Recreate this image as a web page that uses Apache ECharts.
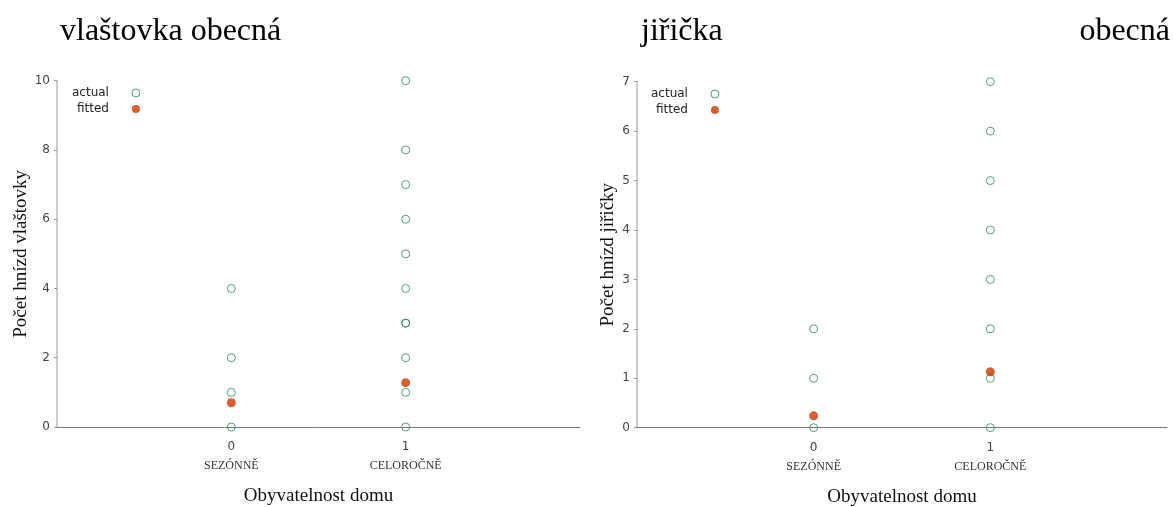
<!DOCTYPE html>
<html><head><meta charset="utf-8">
<script src="https://cdn.jsdelivr.net/npm/echarts@6/dist/echarts.min.js"></script>
<style>html,body{margin:0;padding:0;background:#fff}#c{width:1173px;height:507px}</style>
</head><body><div id="c"></div>
<script>
const categories = ['SEZÓNNĚ', 'CELOROČNĚ'];
const xTicks = [0, 1];
const swallowActualSeasonal = [0, 1, 2, 4];
const swallowActualYear = [0, 1, 2, 3, 3, 4, 5, 6, 7, 8, 10];
const swallowFitted = [0.7, 1.28];
const martinActualSeasonal = [0, 1, 2];
const martinActualYear = [0, 1, 2, 3, 4, 5, 6, 7];
const martinFitted = [0.24, 1.13];

const GREEN = '#2f8352', RED = '#c93800';
const serif = '"Liberation Serif", "DejaVu Serif", serif';
const sans = '"DejaVu Sans", Verdana, sans-serif';

function pts(x, arr) { return arr.map(v => [x, v]); }

function xAxis(gi) {
  return {
    gridIndex: gi, type: 'value', min: -1, max: 2, interval: 1,
    axisLine: {show: true, lineStyle: {color: '#777', width: 1}},
    axisTick: {show: false}, splitLine: {show: false},
    axisLabel: {
      margin: 12,
      formatter: v => { const i = xTicks.indexOf(v); return i < 0 ? '' : '{n|' + v + '}\n{c|' + categories[i] + '}'; },
      rich: {
        n: {fontFamily: sans, fontSize: 12, color: '#444', lineHeight: 16},
        c: {fontFamily: serif, fontSize: 12, color: '#333', lineHeight: 22}
      }
    },
    name: 'Obyvatelnost domu', nameLocation: 'middle', nameGap: 60,
    nameTextStyle: {fontFamily: serif, fontSize: 19, color: '#111'}
  };
}
function yAxis(gi, max, name) {
  return {
    gridIndex: gi, type: 'value', min: 0, max: max, interval: max === 10 ? 2 : 1,
    axisLine: {show: true, onZero: false, lineStyle: {color: '#bbb', width: 1.5}},
    axisTick: {show: true, length: 3, lineStyle: {color: '#999'}},
    splitLine: {show: false},
    axisLabel: {margin: 7, fontFamily: sans, fontSize: 12, color: '#444'},
    name: name, nameLocation: 'middle', nameGap: max === 10 ? 25 : 19, nameRotate: 90,
    nameTextStyle: {fontFamily: serif, fontSize: 19, color: '#111'}
  };
}
function actual(gi, data) {
  return {type: 'scatter', name: 'actual', xAxisIndex: gi, yAxisIndex: gi, data: data,
    symbol: 'circle', symbolSize: 8,
    itemStyle: {color: 'rgba(255,255,255,0)', borderColor: GREEN, borderWidth: 1, opacity: 0.8}, z: 2};
}
function fitted(gi, data) {
  return {type: 'scatter', name: 'fitted', xAxisIndex: gi, yAxisIndex: gi, data: data,
    symbol: 'circle', symbolSize: 9, itemStyle: {color: RED}, z: 3};
}
function legend(left, top) {
  return {
    left: left, top: top, orient: 'vertical', align: 'right', itemWidth: 8, itemHeight: 8, itemGap: 4,
    selectedMode: false,
    textStyle: {fontFamily: sans, fontSize: 12, color: '#222', padding: [2, 18, 0, 0]},
    data: [{name: 'actual', icon: 'circle', itemStyle: {color: 'rgba(255,255,255,0)', borderColor: GREEN, borderWidth: 1, opacity: 0.8}},
           {name: 'fitted', icon: 'circle'}]
  };
}

const chart = echarts.init(document.getElementById('c'), null, {renderer: 'canvas'});
chart.setOption({
  animation: false,
  graphic: [
    {type: 'text', left: 60, top: 16, style: {text: 'vlaštovka obecná', font: '32px ' + serif, fill: '#000'}},
    {type: 'text', left: 641, top: 16, style: {text: 'jiřička', font: '32px ' + serif, fill: '#000'}},
    {type: 'text', right: 3, top: 16, style: {text: 'obecná', font: '32px ' + serif, fill: '#000'}}
  ],
  grid: [
    {left: 57, right: 593, top: 80.7, bottom: 80, containLabel: false, outerBoundsMode: 'none'},
    {left: 637, right: 6, top: 81.7, bottom: 79.3, containLabel: false, outerBoundsMode: 'none'}
  ],
  legend: [legend(67, 82), legend(646, 83)],
  xAxis: [xAxis(0), xAxis(1)],
  yAxis: [yAxis(0, 10, 'Počet hnízd vlaštovky'), yAxis(1, 7, 'Počet hnízd jiřičky')],
  series: [
    actual(0, pts(0, swallowActualSeasonal).concat(pts(1, swallowActualYear))),
    fitted(0, swallowFitted.map((v, i) => [xTicks[i], v])),
    actual(1, pts(0, martinActualSeasonal).concat(pts(1, martinActualYear))),
    fitted(1, martinFitted.map((v, i) => [xTicks[i], v]))
  ]
});
</script></body></html>
